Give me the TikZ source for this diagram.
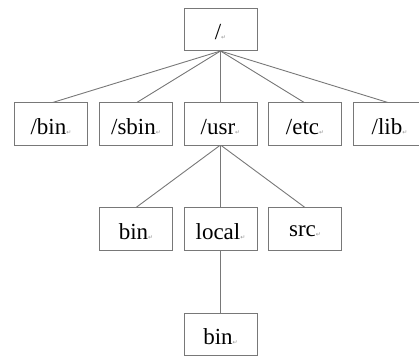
\documentclass[tikz,border=0pt]{standalone}
\usepackage{fontspec}
\setmainfont{Liberation Serif}
\newfontfamily\symfont{DejaVu Sans}
\definecolor{linegray}{RGB}{120,120,120}
\definecolor{markgray}{RGB}{150,150,150}
\newcommand{\pmark}{{\symfont\fontsize{6}{6}\selectfont\textcolor{markgray}{↵}}}
\begin{document}
\begin{tikzpicture}[x=1pt,y=-1pt,
  dirbox/.style={draw=linegray, line width=0.9pt, fill=white, minimum width=73pt, minimum height=42.5pt, inner sep=0pt, font=\fontsize{23}{23}\selectfont, text depth=0pt, anchor=center},
  link/.style={draw=linegray, line width=0.9pt}]
\useasboundingbox (0,0) rectangle (419,356);
\clip (0,0) rectangle (419,356);
% edges first
\coordinate (rootb) at (220.5,51);
\coordinate (usrb) at (220.5,145);
\coordinate (b1t) at (51,103);
\coordinate (b2t) at (136,103);
\coordinate (b3t) at (220.5,103);
\coordinate (b4t) at (305,103);
\coordinate (b5t) at (389.5,103);
\coordinate (c1t) at (136,207.5);
\coordinate (c2t) at (220.5,207.5);
\coordinate (c3t) at (305,207.5);
\coordinate (localb) at (220.5,250);
\coordinate (d1t) at (220.5,313);
\foreach \t in {b1t,b2t,b3t,b4t,b5t} \draw[link] (rootb) -- (\t);
\foreach \t in {c1t,c2t,c3t} \draw[link] (usrb) -- (\t);
\draw[link] (localb) -- (d1t);
% nodes
\node[dirbox] (root) at (220.5,29.5) {\raisebox{-5pt}{/\pmark}};
\node[dirbox] (bin) at (51,124) {\raisebox{-5pt}{/bin\pmark}};
\node[dirbox] (sbin) at (136,124) {\raisebox{-5pt}{/sbin\pmark}};
\node[dirbox] (usr) at (220.5,124) {\raisebox{-5pt}{/usr\pmark}};
\node[dirbox] (etc) at (305,124) {\raisebox{-5pt}{/etc\pmark}};
\node[dirbox] (lib) at (389.5,124) {\raisebox{-5pt}{/lib\pmark}};
\node[dirbox] (ubin) at (136,228.75) {\raisebox{-5pt}{bin\pmark}};
\node[dirbox] (local) at (220.5,228.75) {\raisebox{-5pt}{local\pmark}};
\node[dirbox] (src) at (305,228.75) {\raisebox{-5pt}{src\pmark}};
\node[dirbox] (lbin) at (220.5,334.5) {\raisebox{-5pt}{bin\pmark}};
\end{tikzpicture}
\end{document}
